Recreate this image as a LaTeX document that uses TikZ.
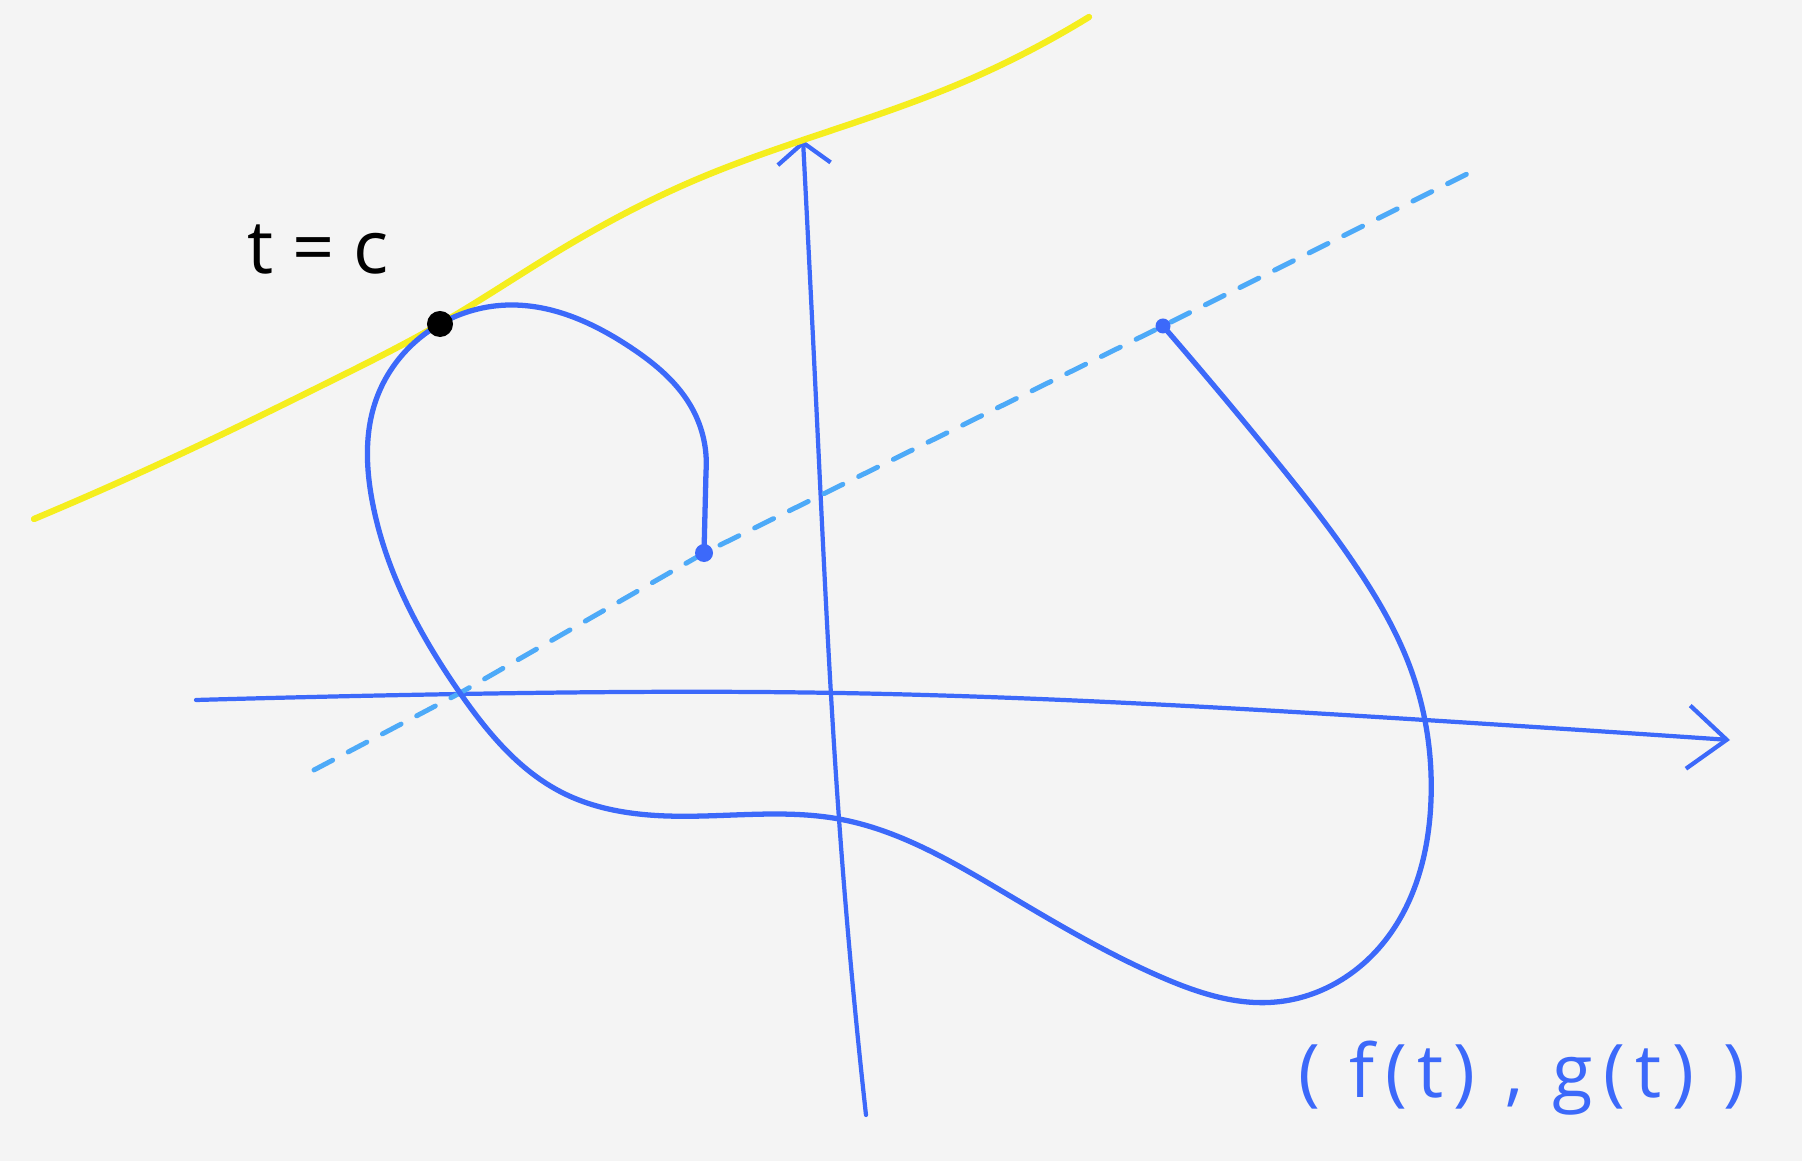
\documentclass[tikz,border=0pt]{standalone}
\usepackage{fontspec}
\setmainfont{Open Sans}
\newfontfamily\handfont[LetterSpace=14]{Open Sans}
\usetikzlibrary{arrows.meta,hobby}
\definecolor{paper}{HTML}{F4F4F4}
\definecolor{curveB}{HTML}{3C69FA}
\definecolor{secB}{HTML}{4DAAF8}
\definecolor{tanY}{HTML}{F5EE1E}
\tikzset{
  curveline/.style={draw=curveB, line width=1.5pt, line cap=round, line join=round},
  axisline/.style={draw=curveB, line width=1.2pt, line cap=round, line join=round},
  tangent/.style={draw=tanY, line width=1.8pt, line cap=round, line join=round},
  secant/.style={draw=secB, line width=1.4pt, line cap=round,
                 dash pattern=on 6pt off 5pt},
  dotmark/.style={circle, fill=curveB, inner sep=0pt, minimum size=0.18cm},
  lbl/.style={font=\fontsize{21}{25}\selectfont, inner sep=0pt},
}

\begin{document}
\begin{tikzpicture}[x=0.01cm, y=-0.01cm]
  \fill[paper] (0,0) rectangle (1802,1161);

  % ---------------------------------------------------------- axes
  \coordinate (xstart) at (196,700);
  \coordinate (xend) at (1730,740);
  \coordinate (ystart) at (866,1115);
  \coordinate (yend) at (803,140);
  \draw[axisline, use Hobby shortcut,
        -{Straight Barb[length=11pt, width=18pt, line width=1.2pt]}]
    (xstart) .. (460,694) .. (839,693) .. (1425,720) .. (xend);
  \draw[axisline, use Hobby shortcut,
        -{Straight Barb[length=6pt, width=15pt, line width=1.2pt]}]
    (ystart) .. (839,819) .. (817,420) .. (yend);

  % ---------------------------------------------------------- lines
  \coordinate (tang) at (440,324);
  \coordinate (pA) at (704,553);
  \coordinate (pB) at (1163,326);
  \draw[tangent, use Hobby shortcut] (34,519) .. (172,458) .. (333,380)
    .. (tang) .. (560,250) .. (700,178) .. (803,140) .. (954,86) .. (1089,17);
  \draw[secant] (314,770) -- (460,693) -- (pA) -- (pB) -- (1471,172);

  % ---------------------------------------------------------- the curve
  \draw[curveline, use Hobby shortcut] (pA) -- (706,472)
    .. (693,410) .. (630,347) .. (510,305) .. (tang) .. (376,400)
    .. (372,500) .. (460,693) .. (563,793) .. (667,816) .. (839,819)
    .. (1000,890) .. (1161,977) .. (1276,1002) .. (1379,948) .. (1431,800)
    .. (1410,667) .. (1363,577) .. (1273,457) .. (pB);

  \node[dotmark] (dotA) at (pA) {};
  \node[dotmark, minimum size=0.15cm] (dotB) at (pB) {};
  \node[circle, fill=black, inner sep=0pt, minimum size=0.26cm] (dotC) at (tang) {};

  % ---------------------------------------------------------- labels
  \node[lbl] (tlabel) at (318,250) {t = c};
  \node[lbl, text=curveB, font=\handfont\fontsize{21}{25}\selectfont]
    (curvelabel) at (1522,1078) {( f(t) , g(t) )};
\end{tikzpicture}
\end{document}
